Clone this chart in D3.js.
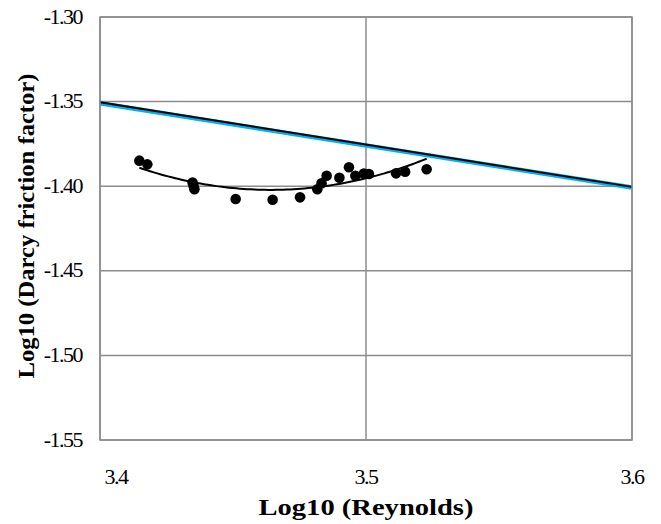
<!DOCTYPE html>
<html>
<head>
<meta charset="utf-8">
<script src="https://cdn.jsdelivr.net/npm/d3@7/dist/d3.min.js"></script>
<style>
  html, body { margin: 0; padding: 0; background: #fff; }
  svg { display: block; }
  .tick-label { font-family: "Liberation Serif", "Times New Roman", serif; font-size: 22px; fill: #000; letter-spacing: -1.5px; }
  .axis-title { font-family: "Liberation Serif", "Times New Roman", serif; font-size: 24px; font-weight: bold; fill: #000; }
</style>
</head>
<body>
<svg id="chart" width="661" height="524"></svg>
<script>
// Axis ticks
const xTicks = [3.4, 3.5, 3.6];
const yTicks = [-1.30, -1.35, -1.40, -1.45, -1.50, -1.55];

// Measured points: log10(Re) vs log10(f)
const logRe = [3.4148, 3.4178, 3.4348, 3.4352, 3.4355, 3.4510, 3.4649, 3.4752,
               3.4817, 3.4833, 3.4852, 3.4900, 3.4936, 3.4960, 3.4992, 3.5011,
               3.5113, 3.5147, 3.5228];
const logF  = [-1.3849, -1.3871, -1.3978, -1.3999, -1.4018, -1.4076, -1.4080, -1.4066,
               -1.4018, -1.3983, -1.3938, -1.3950, -1.3888, -1.3938, -1.3925, -1.3928,
               -1.3924, -1.3914, -1.3900];

// Reference correlations (straight lines in log-log space)
const refX = [3.4, 3.6];
const refBlueY = [-1.3510, -1.4008];
const refBlackY = [-1.3504, -1.4004];

const svg = d3.select("#chart");
const plot = { left: 100, right: 632, top: 17, bottom: 440 };

const x = d3.scaleLinear().domain([3.4, 3.6]).range([plot.left, plot.right]);
const y = d3.scaleLinear().domain([-1.55, -1.30]).range([plot.bottom, plot.top]);

const gridColor = "#8c8c8c";

// Horizontal gridlines
svg.append("g").selectAll("line").data(yTicks).join("line")
  .attr("x1", plot.left).attr("x2", plot.right)
  .attr("y1", d => y(d)).attr("y2", d => y(d))
  .attr("stroke", gridColor).attr("stroke-width", 1.5);

// Vertical gridlines
svg.append("g").selectAll("line").data(xTicks).join("line")
  .attr("x1", d => x(d)).attr("x2", d => x(d))
  .attr("y1", plot.top).attr("y2", plot.bottom)
  .attr("stroke", gridColor).attr("stroke-width", 1.5);

// Y tick labels
svg.append("g").selectAll("text").data(yTicks).join("text")
  .attr("class", "tick-label")
  .attr("x", 82).attr("y", d => y(d))
  .attr("dy", "0.3em")
  .attr("text-anchor", "end")
  .text(d => d.toFixed(2));

// X tick labels
svg.append("g").selectAll("text").data(xTicks).join("text")
  .attr("class", "tick-label")
  .attr("x", (d, i) => i === 0 ? x(d) + 16 : x(d))
  .attr("y", 484)
  .attr("text-anchor", "middle")
  .text(d => d.toFixed(1));

const lineGen = d3.line().x(d => x(d[0])).y(d => y(d[1]));

// Reference lines
svg.append("path")
  .datum(refX.map((v, i) => [v, refBlueY[i]]))
  .attr("d", lineGen)
  .attr("fill", "none").attr("stroke", "#00b0f0").attr("stroke-width", 4.5);
svg.append("path")
  .datum(refX.map((v, i) => [v, refBlackY[i]]))
  .attr("d", lineGen)
  .attr("fill", "none").attr("stroke", "#000").attr("stroke-width", 2);

// Quadratic least-squares trend of the measured points
function quadFit(xs, ys) {
  const xm = d3.mean(xs);
  const u = xs.map(v => v - xm);
  let s0 = xs.length, s1 = 0, s2 = 0, s3 = 0, s4 = 0, t0 = 0, t1 = 0, t2 = 0;
  u.forEach((v, i) => {
    s1 += v; s2 += v * v; s3 += v * v * v; s4 += v * v * v * v;
    t0 += ys[i]; t1 += v * ys[i]; t2 += v * v * ys[i];
  });
  const A = [[s0, s1, s2, t0], [s1, s2, s3, t1], [s2, s3, s4, t2]];
  for (let c = 0; c < 3; c++) {
    for (let r = c + 1; r < 3; r++) {
      const f = A[r][c] / A[c][c];
      for (let k = c; k < 4; k++) A[r][k] -= f * A[c][k];
    }
  }
  const b = [0, 0, 0];
  for (let r = 2; r >= 0; r--) {
    let s = A[r][3];
    for (let k = r + 1; k < 3; k++) s -= A[r][k] * b[k];
    b[r] = s / A[r][r];
  }
  return v => b[0] + b[1] * (v - xm) + b[2] * (v - xm) * (v - xm);
}
const trend = quadFit(logRe, logF);
const [xmin, xmax] = d3.extent(logRe);
const trendPts = d3.range(0, 81).map(i => {
  const v = xmin + (xmax - xmin) * i / 80;
  return [v, trend(v)];
});
svg.append("path")
  .datum(trendPts)
  .attr("d", lineGen)
  .attr("fill", "none").attr("stroke", "#000").attr("stroke-width", 2);

// Data points
svg.append("g").selectAll("circle").data(logRe).join("circle")
  .attr("cx", d => x(d))
  .attr("cy", (d, i) => y(logF[i]))
  .attr("r", 5.3)
  .attr("fill", "#000");

// Plot border
svg.append("rect")
  .attr("x", plot.left).attr("y", plot.top)
  .attr("width", plot.right - plot.left).attr("height", plot.bottom - plot.top)
  .attr("fill", "none").attr("stroke", gridColor).attr("stroke-width", 1.5);

// Axis titles
svg.append("text")
  .attr("class", "axis-title")
  .attr("x", 366).attr("y", 515)
  .attr("text-anchor", "middle")
  .attr("textLength", 215).attr("lengthAdjust", "spacingAndGlyphs")
  .text("Log10 (Reynolds)");

svg.append("text")
  .attr("class", "axis-title")
  .attr("transform", "translate(34,226) rotate(-90)")
  .attr("text-anchor", "middle")
  .attr("textLength", 305).attr("lengthAdjust", "spacingAndGlyphs")
  .text("Log10 (Darcy friction factor)");
</script>
</body>
</html>
